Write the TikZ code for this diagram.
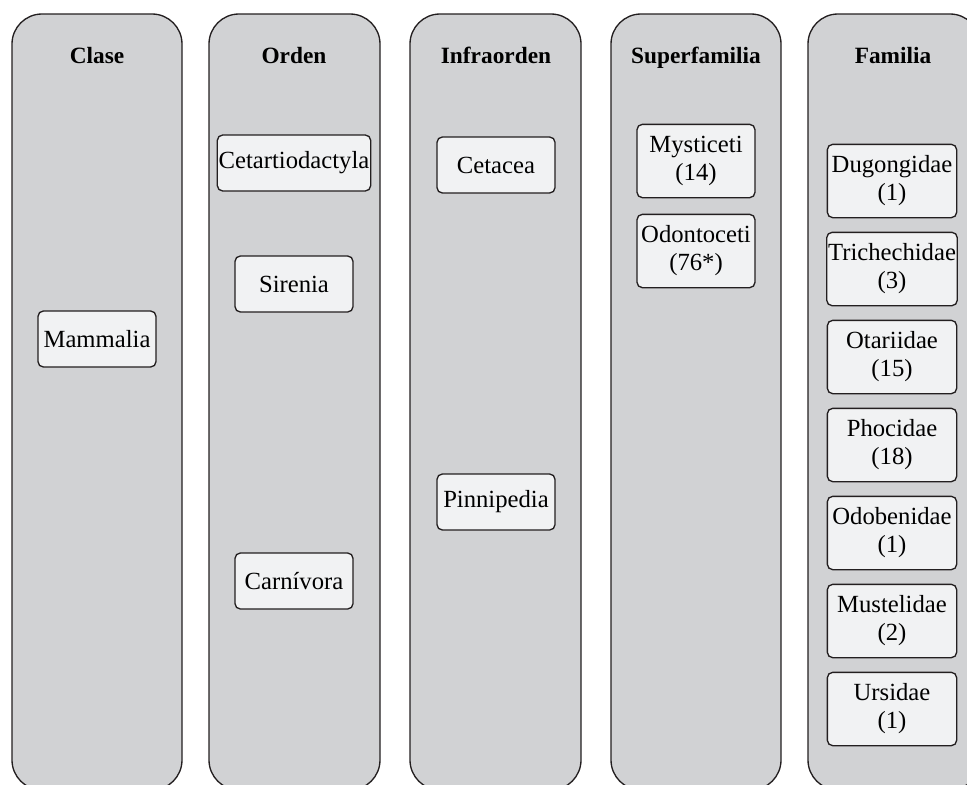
\documentclass[tikz,border=0pt]{standalone}
\usepackage{fontspec}
\setmainfont{Liberation Serif}
\definecolor{colgray}{HTML}{D1D2D4}
\definecolor{boxgray}{HTML}{F1F2F3}
\definecolor{edgeblack}{HTML}{231F20}

\begin{document}
\begin{tikzpicture}[x=0.75pt,y=-0.75pt,
  column/.style={fill=colgray,draw=edgeblack,line width=1pt,rounded corners=22.5pt},
  header/.style={anchor=base,font=\fontsize{17.5}{20}\selectfont\bfseries},
  taxon/.style={draw=edgeblack,fill=boxgray,line width=1pt,rounded corners=4pt,
    minimum width=88.5pt,minimum height=42pt,inner sep=1pt,align=center,
    font=\fontsize{18.5}{21}\selectfont},
  taxontwo/.style={taxon,minimum height=55pt},
  familia/.style={taxontwo,minimum width=97pt}]
  \useasboundingbox (0,0) rectangle (967,785);
  \clip (0,0) rectangle (967,785);
  % Columns
  \draw[column] (12,14) rectangle (182,790);
  \draw[column] (209,14) rectangle (380,790);
  \draw[column] (410,14) rectangle (581,790);
  \draw[column] (611,14) rectangle (781,790);
  \draw[column] (808,14) rectangle (980,790);
  % Headers
  \node[header] (clase) at (97,63) {Clase};
  \node[header] (orden) at (294,63) {Orden};
  \node[header] (infraorden) at (496,63) {Infraorden};
  \node[header] (superfamilia) at (696,63) {Superfamilia};
  \node[header] (familia) at (893,63) {Familia};
  % Clase
  \node[taxon] (mammalia) at (97,339) {Mammalia};
  % Orden
  \node[taxon] (cetartiodactyla) at (294,163) {Cetartiodactyla};
  \node[taxon] (sirenia) at (294,284) {Sirenia};
  \node[taxon] (carnivora) at (294,581) {Carnívora};
  % Infraorden
  \node[taxon] (cetacea) at (496,165) {Cetacea};
  \node[taxon] (pinnipedia) at (496,502) {Pinnipedia};
  % Superfamilia
  \node[taxontwo] (mysticeti) at (696,161) {Mysticeti\\(14)};
  \node[taxontwo] (odontoceti) at (696,251) {Odontoceti\\(76*)};
  % Familia
  \node[familia] (dugongidae) at (892,181) {Dugongidae\\(1)};
  \node[familia] (trichechidae) at (892,269) {Trichechidae\\(3)};
  \node[familia] (otariidae) at (892,357) {Otariidae\\(15)};
  \node[familia] (phocidae) at (892,445) {Phocidae\\(18)};
  \node[familia] (odobenidae) at (892,533) {Odobenidae\\(1)};
  \node[familia] (mustelidae) at (892,621) {Mustelidae\\(2)};
  \node[familia] (ursidae) at (892,709) {Ursidae\\(1)};
\end{tikzpicture}
\end{document}
